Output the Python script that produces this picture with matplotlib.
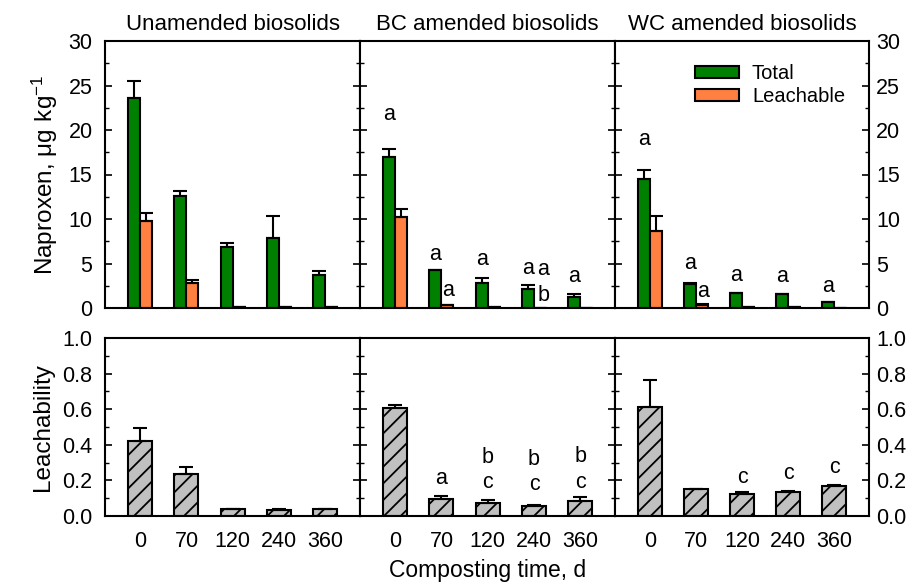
import matplotlib
matplotlib.use('Agg')
import matplotlib.pyplot as plt
import numpy as np

plt.rcParams['font.family'] = ['Liberation Sans', 'DejaVu Sans']
plt.rcParams['hatch.linewidth'] = 1.3

days = ['0', '70', '120', '240', '360']
titles = ['Unamended biosolids', 'BC amended biosolids', 'WC amended biosolids']

# naproxen, ug/kg
total = [[23.6, 12.6, 6.8, 7.9, 3.7],
         [16.95, 4.27, 2.8, 2.17, 1.27],
         [14.55, 2.66, 1.65, 1.57, 0.67]]
total_err = [[1.9, 0.6, 0.5, 2.4, 0.5],
             [0.97, 0.05, 0.6, 0.4, 0.35],
             [0.95, 0.2, 0.05, 0.05, 0.05]]
leach = [[9.75, 2.8, 0.15, 0.1, 0.1],
         [10.24, 0.3, 0.1, 0.05, 0.03],
         [8.7, 0.37, 0.1, 0.1, 0.05]]
leach_err = [[0.95, 0.4, 0.0, 0.0, 0.0],
             [0.86, 0.05, 0.0, 0.0, 0.0],
             [1.6, 0.05, 0.0, 0.0, 0.0]]

# leachability
ratio = [[0.424, 0.235, 0.0375, 0.032, 0.039],
         [0.608, 0.096, 0.075, 0.058, 0.084],
         [0.612, 0.152, 0.124, 0.137, 0.171]]
ratio_err = [[0.073, 0.043, 0.002, 0.005, 0.003],
             [0.015, 0.017, 0.015, 0.003, 0.023],
             [0.15, 0.002, 0.011, 0.006, 0.005]]

# significance letters: (panel, group, offset, y, text)
top_letters = [(1, 0, -0.13, 21.7, 'a'), (1, 1, -0.13, 6.0, 'a'), (1, 1, 0.15, 2.0, 'a'),
               (1, 2, -0.13, 5.4, 'a'), (1, 3, -0.13, 4.4, 'a'), (1, 3, 0.2, 4.3, 'a'),
               (1, 3, 0.2, 1.4, 'b'), (1, 4, -0.13, 3.5, 'a'),
               (2, 0, -0.13, 18.9, 'a'), (2, 1, -0.13, 5.0, 'a'), (2, 1, 0.15, 1.8, 'a'),
               (2, 2, -0.13, 3.7, 'a'), (2, 3, -0.13, 3.5, 'a'), (2, 4, -0.13, 2.4, 'a')]
bottom_letters = [(1, 1, 0.21, 'a'), (1, 2, 0.33, 'b'), (1, 2, 0.19, 'c'),
                  (1, 3, 0.315, 'b'), (1, 3, 0.175, 'c'), (1, 4, 0.334, 'b'), (1, 4, 0.19, 'c'),
                  (2, 2, 0.218, 'c'), (2, 3, 0.236, 'c'), (2, 4, 0.272, 'c')]

W, H = 917, 585
fig = plt.figure(figsize=(W / 100, H / 100), dpi=100)

xs = [105, 360, 615, 869]
x = np.arange(5)
fs = 15.5

top_axes = []
bot_axes = []
for i in range(3):
    l = xs[i] / W
    w = (xs[i + 1] - xs[i]) / W
    top_axes.append(fig.add_axes([l, (H - 308) / H, w, (308 - 41) / H]))
    bot_axes.append(fig.add_axes([l, (H - 516) / H, w, (516 - 338) / H]))

ekw = dict(elinewidth=1.5, capthick=1.5, ecolor='black')
for i in range(3):
    ax = top_axes[i]
    z = np.zeros(5)
    ax.bar(x - 0.13, total[i], 0.26, yerr=[z, total_err[i]], capsize=5,
           color='#008000', edgecolor='black', linewidth=1.5, error_kw=ekw, label='Total')
    ax.bar(x + 0.13, leach[i], 0.26, yerr=[z, leach_err[i]], capsize=5,
           color='#FF8040', edgecolor='black', linewidth=1.5, error_kw=ekw, label='Leachable')
    ax.set_ylim(0, 30)
    ax.set_yticks(np.arange(0, 31, 5))
    ax.set_yticks(np.arange(0, 31, 2.5), minor=True)
    ax.set_title(titles[i], fontsize=16, pad=8)

    ax2 = bot_axes[i]
    ax2.bar(x, ratio[i], 0.52, yerr=[z, ratio_err[i]], capsize=5,
            color='#C0C0C0', edgecolor='black', linewidth=1.5, hatch='//', error_kw=ekw)
    ax2.set_ylim(0, 1)
    ax2.set_yticks(np.arange(0, 1.01, 0.2))
    ax2.set_yticks(np.arange(0, 1.01, 0.1), minor=True)
    ax2.set_yticklabels(['%.1f' % v for v in np.arange(0, 1.01, 0.2)])
    ax2.set_xticks(x)
    ax2.set_xticklabels(days)

for ax in top_axes + bot_axes:
    ax.set_xlim(-0.76, 4.75)
    for s in ax.spines.values():
        s.set_linewidth(1.5)
    ax.tick_params(axis='y', which='major', direction='in', length=5, width=1.2, pad=5,
                   left=True, right=True, labelleft=False, labelright=False, labelsize=fs)
    ax.tick_params(axis='y', which='minor', direction='in', length=3, width=1.0,
                   left=True, right=True)
    ax.tick_params(axis='x', length=0, labelsize=fs, pad=11)

for ax in top_axes:
    ax.set_xticks([])

top_axes[0].tick_params(axis='y', labelleft=True, pad=9)
bot_axes[0].tick_params(axis='y', labelleft=True, pad=9)
top_axes[2].tick_params(axis='y', labelright=True)
bot_axes[2].tick_params(axis='y', labelright=True)

for p, g, off, y, t in top_letters:
    top_axes[p].text(g + off, y, t, ha='center', va='center', fontsize=fs)
for p, g, y, t in bottom_letters:
    bot_axes[p].text(g, y, t, ha='center', va='center', fontsize=fs)

top_axes[0].set_ylabel('Naproxen, $\\mathregular{\\mu g\\ kg^{-1}}$', fontsize=17.5, labelpad=6)
bot_axes[0].set_ylabel('Leachability', fontsize=17.5, labelpad=6)
bot_axes[1].set_xlabel('Composting time, d', fontsize=16.5, labelpad=5)

top_axes[2].legend(loc='upper left', bbox_to_anchor=(0.242, 0.982), frameon=False,
                   fontsize=14.5, handlelength=2.2, handleheight=0.55, labelspacing=0.2,
                   handletextpad=0.65)

fig.savefig('out.png', dpi=100)
